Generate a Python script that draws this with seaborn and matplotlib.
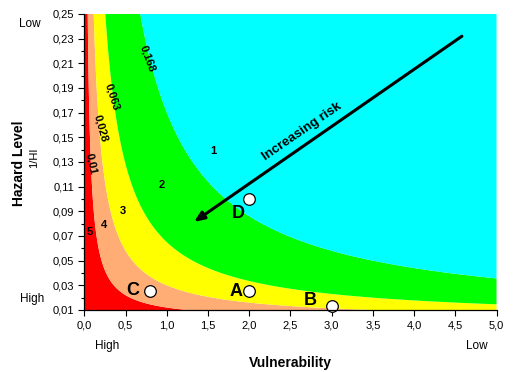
import numpy as np
import pandas as pd
import matplotlib
matplotlib.use("Agg")
import matplotlib.pyplot as plt
import seaborn as sns

# ---- data ----
risk_levels = [0.01, 0.028, 0.063, 0.168]          # contour boundaries (V * 1/HI)
level_labels = ["0,01", "0,028", "0,063", "0,168"]
zone_numbers = ["5", "4", "3", "2", "1"]
zone_colors = ["#FF0000", "#FFAD75", "#FFFF00", "#00FF00", "#00FFFF"]
y_offset = 0.002                                    # baseline shift of the curves

point_names = ["A", "B", "C", "D"]
point_vuln = [2.0, 3.0, 0.8, 2.0]
point_hazard = [0.025, 0.013, 0.025, 0.100]

x_ticks = [0.0, 0.5, 1.0, 1.5, 2.0, 2.5, 3.0, 3.5, 4.0, 4.5, 5.0]
x_ticklabels = ["0,0", "0,5", "1,0", "1,5", "2,0", "2,5", "3,0", "3,5", "4,0", "4,5", "5,0"]
y_ticks = [0.01, 0.03, 0.05, 0.07, 0.09, 0.11, 0.13, 0.15, 0.17, 0.19, 0.21, 0.23, 0.25]
y_ticklabels = ["0,01", "0,03", "0,05", "0,07", "0,09", "0,11", "0,13", "0,15",
                "0,17", "0,19", "0,21", "0,23", "0,25"]

# ---- style ----
sns.set_style("ticks")
plt.rcParams["font.family"] = ["Liberation Sans", "DejaVu Sans"]
plt.rcParams["text.color"] = "black"
plt.rcParams["axes.labelcolor"] = "black"
plt.rcParams["xtick.color"] = "black"
plt.rcParams["ytick.color"] = "black"

fig = plt.figure(figsize=(5.21, 3.72), dpi=100)
ax = fig.add_axes([0.162, 0.1667, 0.791, 0.7957])

xs = np.linspace(0.0, 5.0, 600)
ys = np.linspace(0.01, 0.25, 600)
X, Y = np.meshgrid(xs, ys)
Z = X * (Y - y_offset)
bounds = [-1.0] + risk_levels + [10.0]
ax.contourf(X, Y, Z, levels=bounds, colors=zone_colors, antialiased=True)

df = pd.DataFrame({"name": point_names, "V": point_vuln, "H": point_hazard})
sns.scatterplot(data=df, x="V", y="H", ax=ax, s=70, color="white",
                edgecolor="black", linewidth=0.9, zorder=5, clip_on=False)

# point labels (offsets relative to each point)
lab_off = {"A": (-0.08, 0.0), "B": (-0.18, 0.005), "C": (-0.13, 0.001), "D": (-0.05, -0.012)}
for n, v, h in zip(point_names, point_vuln, point_hazard):
    dx, dy = lab_off[n]
    ax.text(v + dx, h + dy, n, fontsize=13, fontweight="bold", color="black",
            ha="right", va="center", zorder=6)

# zone numbers
zone_pos = [(0.06, 0.073), (0.24, 0.079), (0.47, 0.090), (0.94, 0.111), (1.56, 0.139)]
for t, (zx, zy) in zip(zone_numbers, zone_pos):
    ax.text(zx, zy, t, fontsize=8, fontweight="bold", ha="center", va="center")

# contour labels
lab_pos = [(0.08, 0.129, -78), (0.20, 0.157, -74), (0.34, 0.183, -72), (0.77, 0.2135, -70)]
for t, (lx, ly, rot) in zip(level_labels, lab_pos):
    ax.text(lx, ly, t, fontsize=8, fontweight="bold", rotation=rot,
            ha="center", va="center", rotation_mode="anchor")

# arrow
ax.annotate("", xy=(1.33, 0.0814), xytext=(4.58, 0.232),
            arrowprops=dict(arrowstyle="-|>,head_length=0.6,head_width=0.25",
                            color="black", lw=2.2, shrinkA=0, shrinkB=0))
ax.text(2.64, 0.155, "Increasing risk", fontsize=9.5, fontweight="bold",
        rotation=34.5, ha="center", va="center", rotation_mode="anchor")

ax.set_xlim(0, 5)
ax.set_ylim(0.01, 0.25)
ax.set_xticks(x_ticks)
ax.set_xticklabels(x_ticklabels, fontsize=8)
ax.set_yticks(y_ticks)
ax.set_yticklabels(y_ticklabels, fontsize=8)
ax.set_yticks(np.arange(0.02, 0.25, 0.02), minor=True)
ax.tick_params(axis="both", which="major", length=4, width=0.8, color="black")
ax.tick_params(axis="y", which="minor", length=2.5, width=0.8, color="black")
sns.despine(ax=ax, top=True, right=True)
for sp in ["left", "bottom"]:
    ax.spines[sp].set_color("black")
    ax.spines[sp].set_linewidth(0.9)
    ax.spines[sp].set_zorder(10)

ax.set_xlabel("")
ax.set_ylabel("")

fig.text(0.557, 0.024, "Vulnerability", fontsize=10, fontweight="bold",
         ha="center", va="center")
fig.text(0.037, 0.562, "Hazard Level", fontsize=10, fontweight="bold",
         rotation=90, ha="center", va="center")
fig.text(0.065, 0.575, "1/HI", fontsize=8, rotation=90, ha="center", va="center")
fig.text(0.058, 0.935, "Low", fontsize=8.5, ha="center", va="center")
fig.text(0.061, 0.195, "High", fontsize=8.5, ha="center", va="center")
fig.text(0.205, 0.070, "High", fontsize=8.5, ha="center", va="center")
fig.text(0.916, 0.070, "Low", fontsize=8.5, ha="center", va="center")

fig.savefig("out.png", dpi=100)
